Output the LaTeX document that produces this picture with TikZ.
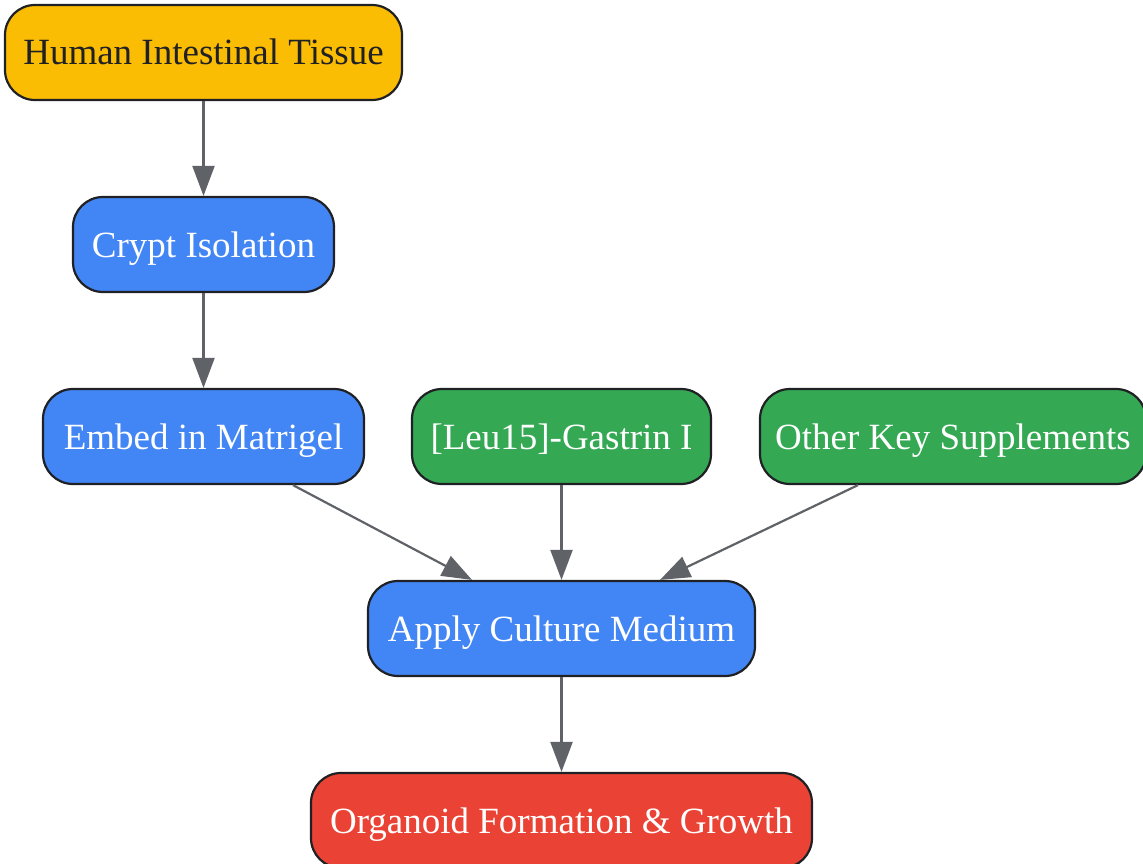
\documentclass[tikz,border=0pt]{standalone}
\usepackage{fontspec}
\setmainfont{Liberation Serif}
\usetikzlibrary{arrows.meta,calc}
\definecolor{gyellow}{HTML}{FBBC04}
\definecolor{gblue}{HTML}{4285F4}
\definecolor{ggreen}{HTML}{34A853}
\definecolor{gred}{HTML}{EA4335}
\definecolor{gborder}{HTML}{202124}
\definecolor{garrow}{HTML}{5F6368}
\tikzset{
  box/.style={draw=gborder, line width=2.2pt, rounded corners=30pt,
    minimum height=95pt, inner sep=0pt, text=white,
    text height=30pt, text depth=5pt,
    font=\fontsize{37}{44}\selectfont},
  link/.style={draw=garrow, line width=2.2pt, -{Triangle[length=30pt,width=22pt]}}
}
\begin{document}
\begin{tikzpicture}[x=1pt,y=-1pt]
\useasboundingbox (0,0) rectangle (1143,864);
\node[box, fill=gyellow, text=gborder, minimum width=397pt] (tissue) at (203.5,52.5) {Human Intestinal Tissue};
\node[box, fill=gblue, minimum width=261pt] (crypt) at (203.5,244.5) {Crypt Isolation};
\node[box, fill=gblue, minimum width=321pt] (embed) at (203.5,436.5) {Embed in Matrigel};
\node[box, fill=ggreen, minimum width=299pt] (gastrin) at (561.5,436.5) {[Leu15]-Gastrin I};
\node[box, fill=ggreen, minimum width=386pt] (other) at (953,436.5) {Other Key Supplements};
\node[box, fill=gblue, minimum width=387pt] (apply) at (561.5,628.5) {Apply Culture Medium};
\node[box, fill=gred, minimum width=501pt] (organoid) at (561.5,820.5) {Organoid Formation \& Growth};
\draw[link] (tissue) -- (crypt);
\draw[link] (crypt) -- (embed);
\draw[link] ([xshift=89.5pt]embed.south) -- ([xshift=-89.5pt]apply.north);
\draw[link] (gastrin) -- (apply);
\draw[link] ([xshift=-95pt]other.south) -- ([xshift=98.5pt]apply.north);
\draw[link] (apply) -- (organoid);
\end{tikzpicture}
\end{document}
